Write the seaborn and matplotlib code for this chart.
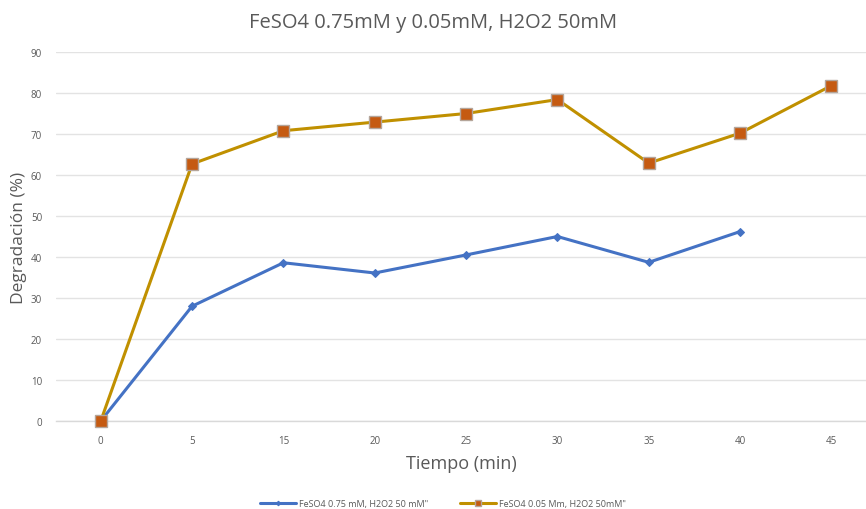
import matplotlib
matplotlib.use("Agg")
import matplotlib.pyplot as plt
import seaborn as sns
import pandas as pd

categories = ["0", "5", "15", "20", "25", "30", "35", "40", "45"]
blue_vals = [0, 28.0, 38.6, 36.1, 40.5, 45.0, 38.7, 46.2]
orange_vals = [0, 62.7, 70.8, 72.9, 75.0, 78.4, 62.9, 70.2, 81.8]
yticks = [0, 10, 20, 30, 40, 50, 60, 70, 80, 90]
label_blue = 'FeSO4 0.75 mM, H2O2 50 mM"'
label_orange = 'FeSO4 0.05 Mm, H2O2 50mM"'

sns.set_theme(style="white")
plt.rcParams['font.family'] = ['Open Sans', 'DejaVu Sans']

fig = plt.figure(figsize=(8.66, 5.10), dpi=100)
ax_w = 1 - 56/866
ax = fig.add_axes([56/866, 88/510, ax_w, (422-53)/510])

df_b = pd.DataFrame({"t": categories[:len(blue_vals)], "v": blue_vals})
df_o = pd.DataFrame({"t": categories, "v": orange_vals})

sns.lineplot(data=df_b, x="t", y="v", ax=ax, color="#4472C4", linewidth=2.2,
             marker="D", markersize=4.2, markeredgecolor="#4472C4",
             label=label_blue, clip_on=False, zorder=3)
sns.lineplot(data=df_o, x="t", y="v", ax=ax, color="#C09000", linewidth=2.2,
             marker="s", markersize=8, markerfacecolor="#C55A11",
             markeredgecolor="#B4A59A", markeredgewidth=1.0,
             label=label_orange, clip_on=False, zorder=4)

ax.set_ylim(0, 90)
ax.set_xlim(-0.49, (866-101)/91.3)
ax.set_yticks(yticks)
ax.set_yticklabels([str(v) for v in yticks])
ax.yaxis.grid(True, color="#E3E3E3", linewidth=1.0)
ax.xaxis.grid(False)
for s in ["top", "right", "left"]:
    ax.spines[s].set_visible(False)
ax.spines["bottom"].set_color("#D9D9D9")
ax.spines["bottom"].set_linewidth(1.0)
ax.tick_params(axis="both", length=0, labelsize=7, colors="#595959")
ax.tick_params(axis="x", pad=10)
ax.tick_params(axis="y", pad=10)
ax.set_xlabel("Tiempo (min)", fontsize=13, color="#595959", labelpad=6)
ax.set_ylabel("Degradación (%)", fontsize=12.5, color="#595959")
ax.yaxis.set_label_coords(-(56-27)/(ax_w*866), 0.5)

fig.suptitle("FeSO4 0.75mM y 0.05mM, H2O2 50mM", x=0.5, y=0.975,
             fontsize=14.5, color="#595959")

leg = ax.legend(loc="center", bbox_to_anchor=(443/866, 5/510),
                bbox_transform=fig.transFigure, ncol=2, frameon=False,
                fontsize=6.5, handlelength=4.0, columnspacing=3.6,
                handletextpad=0.3, markerscale=0.55)
for t in leg.get_texts():
    t.set_color("#595959")

fig.savefig("out.png", dpi=100)
